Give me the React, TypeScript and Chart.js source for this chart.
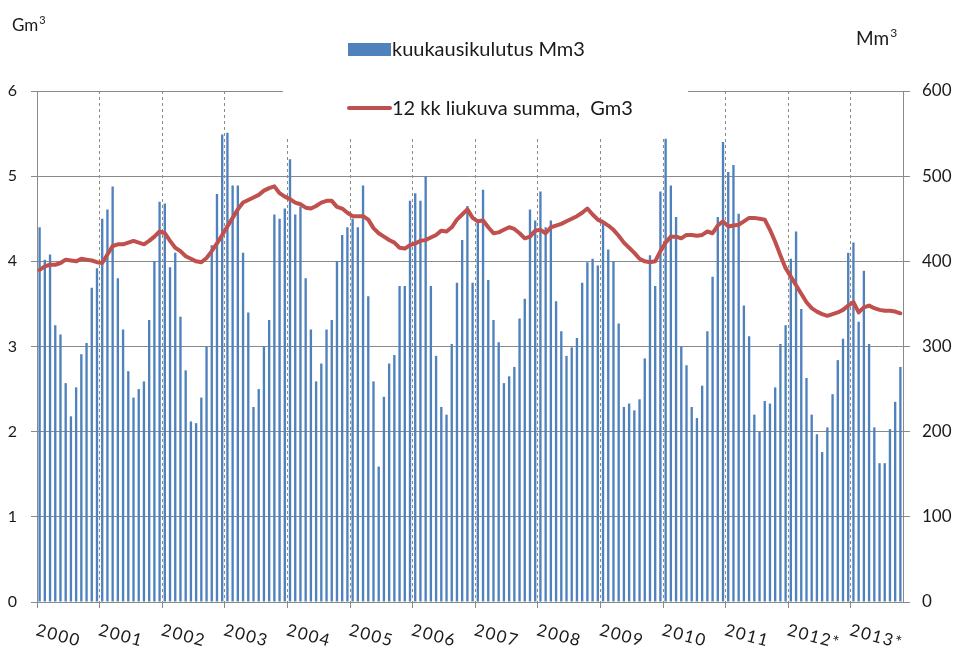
import React, { useEffect, useRef } from 'react';
import { Chart, registerables } from 'chart.js';

Chart.register(...registerables);

// Year tick labels (one per 12 months)
const yearLabels = ['2000', '2001', '2002', '2003', '2004', '2005', '2006', '2007', '2008', '2009', '2010', '2011', '2012*', '2013*'];

// Monthly consumption, Mm3 (right axis), Jan 2000 – Oct 2013
const monthlyMm3 = [
  440, 402, 408, 325, 314, 257, 218, 252, 291, 304, 369, 392,
  450, 461, 488, 380, 320, 271, 240, 250, 259, 331, 400, 470,
  468, 393, 410, 335, 272, 212, 210, 240, 300, 419, 479, 549,
  551, 489, 489, 410, 340, 229, 250, 300, 331, 455, 450, 462,
  520, 455, 464, 380, 320, 259, 280, 320, 331, 400, 431, 440,
  450, 440, 489, 359, 259, 159, 241, 280, 290, 371, 371, 471,
  480, 471, 500, 371, 289, 229, 220, 303, 375, 425, 465, 375,
  445, 484, 378, 331, 305, 257, 265, 276, 333, 356, 461, 448,
  482, 440, 448, 353, 318, 289, 299, 310, 375, 399, 403, 395,
  447, 414, 400, 327, 229, 233, 225, 238, 286, 407, 371, 482,
  544, 489, 452, 300, 278, 229, 216, 254, 318, 382, 452, 540,
  505, 513, 456, 348, 312, 220, 200, 236, 233, 252, 303, 325,
  403, 435, 344, 263, 220, 197, 176, 205, 244, 284, 309, 410,
  422, 329, 389, 303, 205, 163, 163, 203, 235, 276,
];

// 12-month moving sum, Gm3 (left axis)
const rolling12Gm3 = [
  3.90, 3.94, 3.96, 3.96, 3.98, 4.02, 4.01, 4.00, 4.03, 4.02, 4.01, 3.99,
  3.98, 4.08, 4.18, 4.20, 4.20, 4.22, 4.24, 4.22, 4.20, 4.24, 4.29, 4.35,
  4.33, 4.24, 4.16, 4.12, 4.06, 4.03, 4.00, 3.99, 4.04, 4.12, 4.21, 4.31,
  4.41, 4.51, 4.61, 4.69, 4.72, 4.75, 4.78, 4.83, 4.86, 4.88, 4.80, 4.76,
  4.73, 4.69, 4.67, 4.63, 4.62, 4.65, 4.69, 4.71, 4.71, 4.64, 4.62, 4.57,
  4.53, 4.53, 4.53, 4.49, 4.39, 4.33, 4.29, 4.25, 4.22, 4.16, 4.15, 4.19,
  4.21, 4.24, 4.25, 4.28, 4.31, 4.36, 4.35, 4.40, 4.49, 4.55, 4.61, 4.51,
  4.47, 4.48, 4.40, 4.33, 4.34, 4.37, 4.40, 4.38, 4.33, 4.27, 4.29, 4.36,
  4.37, 4.33, 4.40, 4.42, 4.44, 4.47, 4.50, 4.53, 4.57, 4.62, 4.55, 4.49,
  4.46, 4.42, 4.37, 4.30, 4.22, 4.16, 4.10, 4.03, 4.00, 3.99, 4.00, 4.12,
  4.22, 4.29, 4.29, 4.27, 4.31, 4.31, 4.30, 4.31, 4.35, 4.33, 4.42, 4.47,
  4.41, 4.42, 4.43, 4.47, 4.51, 4.51, 4.50, 4.49, 4.37, 4.23, 4.07, 3.92,
  3.82, 3.72, 3.62, 3.52, 3.45, 3.41, 3.38, 3.36, 3.38, 3.40, 3.43, 3.48,
  3.52, 3.40, 3.46, 3.48, 3.45, 3.43, 3.42, 3.42, 3.41, 3.39,
];

const leftAxisRange = [0, 6];
const rightAxisRange = [0, 600];
const seriesNames = ['kuukausikulutus Mm3', '12 kk liukuva summa,  Gm3'];
const leftUnit = ['Gm', '3'];
const rightUnit = ['Mm', '3'];

const categories = monthlyMm3.map(
  (_, i) => `${yearLabels[Math.floor(i / 12)]}-${String((i % 12) + 1).padStart(2, '0')}`
);

const BLUE = '#4F81BD';
const RED = '#C0504D';
const GRID = '#8a8a8a';
const TEXT = '#1a1a1a';

const overlayPlugin = {
  id: 'overlay',
  beforeDatasetsDraw(chart: any) {
    const ctx = chart.ctx;
    ctx.save();
    ctx.fillStyle = '#ffffff';
    ctx.fillRect(283, 24, 405, 115);
    ctx.restore();
  },
  afterDraw(chart: any) {
    const ctx = chart.ctx;
    const xs = chart.scales.x;
    ctx.save();
    // legend
    ctx.fillStyle = BLUE;
    ctx.fillRect(348, 43, 43, 13);
    ctx.strokeStyle = RED;
    ctx.lineWidth = 4;
    ctx.lineCap = 'round';
    ctx.beginPath();
    ctx.moveTo(349, 108);
    ctx.lineTo(390, 108);
    ctx.stroke();
    ctx.fillStyle = TEXT;
    ctx.textAlign = 'left';
    ctx.textBaseline = 'alphabetic';
    ctx.font = '20px Lato';
    ctx.fillText(seriesNames[0], 392, 56);
    ctx.fillText(seriesNames[1], 392, 115);
    // units
    ctx.font = '17px Lato';
    ctx.fillText(leftUnit[0], 12, 31);
    const wl = ctx.measureText(leftUnit[0]).width;
    ctx.font = '11px Lato';
    ctx.fillText(leftUnit[1], 12 + wl + 1, 24);
    ctx.font = '19px Lato';
    ctx.fillText(rightUnit[0], 856, 45);
    const wr = ctx.measureText(rightUnit[0]).width;
    ctx.font = '12px Lato';
    ctx.fillText(rightUnit[1], 856 + wr + 1, 37);
    // year labels, rotated clockwise
    const step = xs.getPixelForValue(1) - xs.getPixelForValue(0);
    ctx.font = '17px Lato';
    (ctx as any).letterSpacing = '1.5px';
    yearLabels.forEach((lab, k) => {
      const px = xs.getPixelForValue(k * 12) - step / 2;
      ctx.save();
      ctx.translate(px - 2, 635);
      ctx.rotate((15 * Math.PI) / 180);
      ctx.fillText(lab, 0, 0);
      ctx.restore();
    });
    ctx.restore();
  },
};

export default function App() {
  const ref = useRef<HTMLCanvasElement | null>(null);
  useEffect(() => {
    if (!ref.current) return;
    const chart = new Chart(ref.current, {
      type: 'bar',
      data: {
        labels: categories,
        datasets: [
          {
            type: 'line',
            label: seriesNames[1],
            data: rolling12Gm3,
            yAxisID: 'y',
            borderColor: RED,
            backgroundColor: RED,
            borderWidth: 4,
            pointRadius: 0,
            tension: 0,
            borderJoinStyle: 'round',
            borderCapStyle: 'round',
            order: 1,
          } as any,
          {
            type: 'bar',
            label: seriesNames[0],
            data: monthlyMm3,
            yAxisID: 'y1',
            backgroundColor: BLUE,
            barPercentage: 0.45,
            categoryPercentage: 1,
            order: 2,
          } as any,
        ],
      },
      options: {
        responsive: false,
        animation: false,
        devicePixelRatio: 1,
        layout: { padding: { top: 91, left: 0, right: 0, bottom: 0 } },
        plugins: { legend: { display: false }, tooltip: { enabled: false } },
        scales: {
          x: {
            type: 'category',
            offset: true,
            grid: {
              offset: true,
              color: (c: any) => (typeof c.index === 'number' && c.index % 12 === 0 ? GRID : 'rgba(0,0,0,0)'),
              tickLength: 6,
              drawTicks: true,
            },
            border: { display: true, color: GRID, dash: [3, 3] },
            ticks: { display: false, autoSkip: false },
            afterFit: (s: any) => { s.height = 51; },
          },
          y: {
            position: 'left',
            min: leftAxisRange[0],
            max: leftAxisRange[1],
            ticks: { stepSize: 1, color: TEXT, font: { family: 'Lato', size: 16 }, padding: 14 },
            grid: { color: GRID, tickLength: 6 },
            border: { display: true, color: GRID },
            afterFit: (s: any) => { s.width = 37; },
          },
          y1: {
            position: 'right',
            min: rightAxisRange[0],
            max: rightAxisRange[1],
            ticks: { stepSize: 100, color: TEXT, font: { family: 'Lato', size: 17 }, padding: 12 },
            grid: { drawOnChartArea: false, color: GRID, tickLength: 7 },
            border: { display: true, color: GRID },
            afterFit: (s: any) => { s.width = 55; },
          },
        },
      },
      plugins: [overlayPlugin],
    } as any);
    return () => chart.destroy();
  }, []);
  return (
    <canvas
      ref={ref}
      width={958}
      height={653}
      style={{ position: 'fixed', left: 0, top: 0, width: 958, height: 653, display: 'block' }}
    />
  );
}
